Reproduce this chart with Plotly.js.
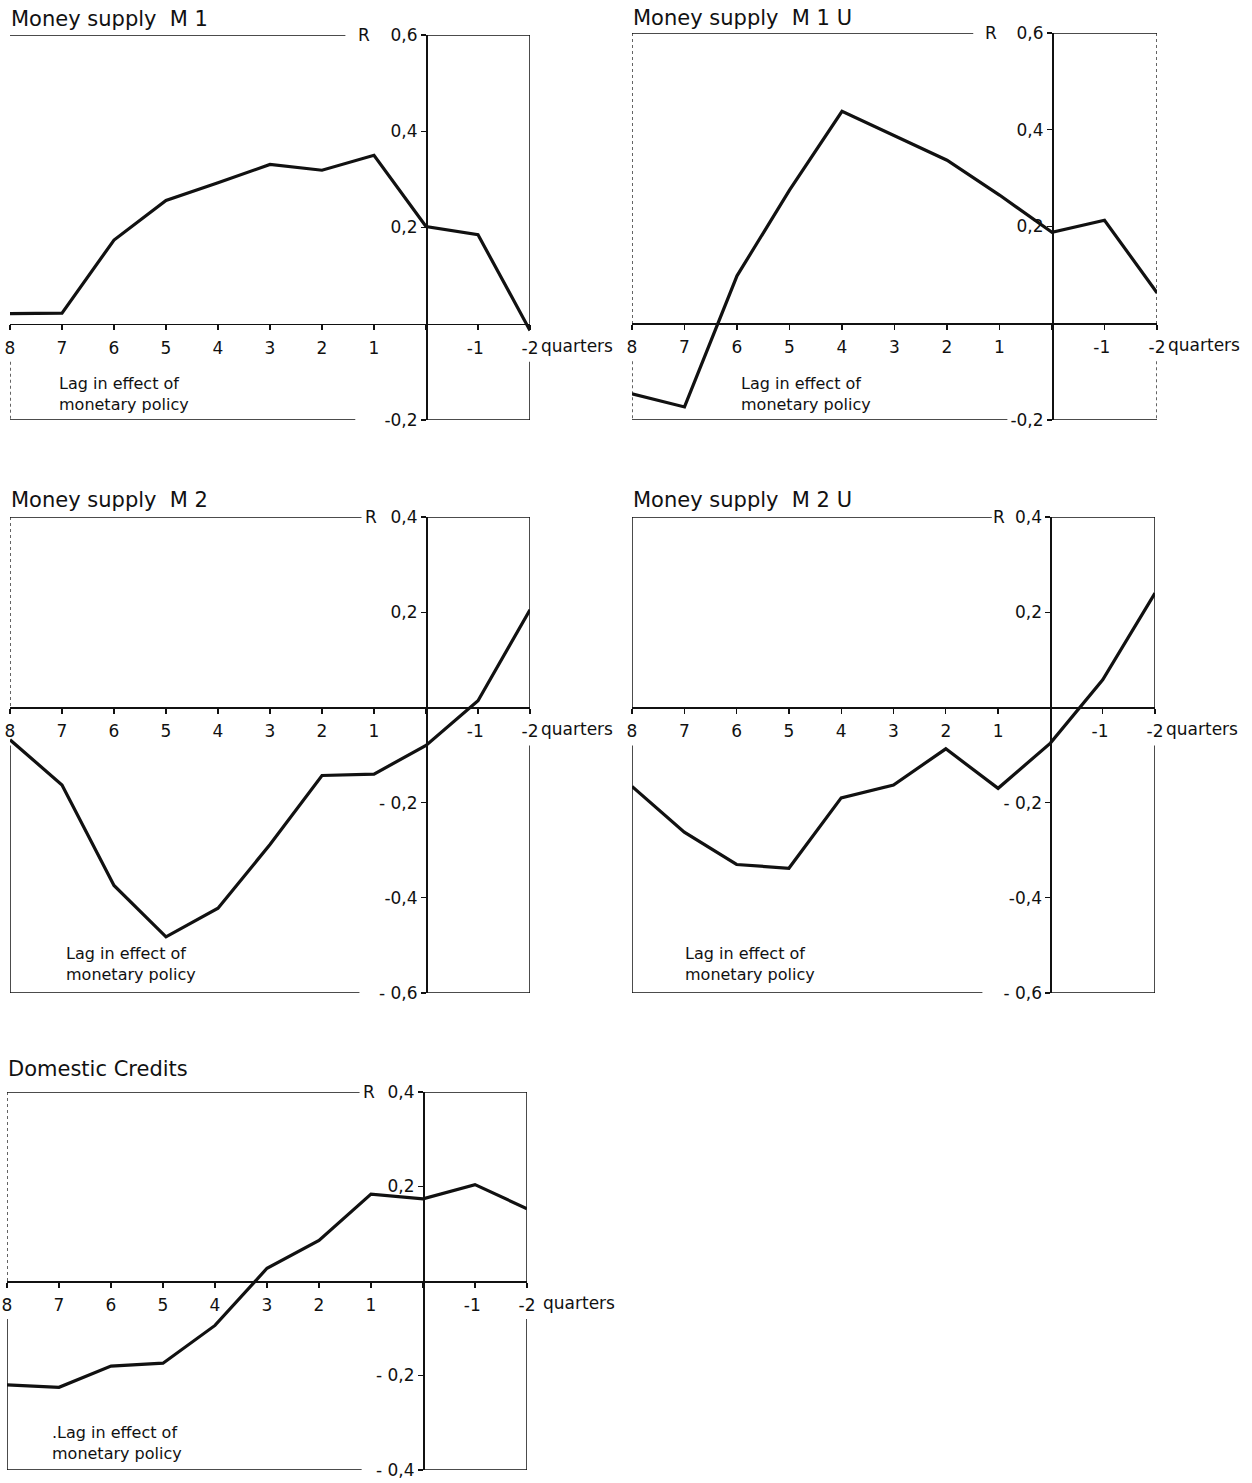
<!DOCTYPE html>
<html><head><meta charset="utf-8">
<script src="https://cdn.plot.ly/plotly-3.0.1.min.js"></script>
<style>body{margin:0;background:#fff}</style>
</head><body><div id="chart" style="width:1252px;height:1483px"></div>
<script>
// ---- data ----
const lags = [8, 7, 6, 5, 4, 3, 2, 1, 0, -1, -2];
const lagLabels = ["8", "7", "6", "5", "4", "3", "2", "1", "", "-1\u00a0", "-2"];
const m1 = [0.021, 0.022, 0.174, 0.256, 0.293, 0.331, 0.319, 0.350, 0.202, 0.185, -0.014];
const m1u = [-0.146, -0.173, 0.098, 0.275, 0.438, 0.388, 0.337, 0.265, 0.188, 0.213, 0.063];
const m2 = [-0.068, -0.163, -0.374, -0.482, -0.422, -0.288, -0.143, -0.140, -0.080, 0.014, 0.205];
const m2u = [-0.166, -0.262, -0.330, -0.338, -0.190, -0.163, -0.087, -0.170, -0.075, 0.058, 0.240];
const domCredits = [-0.220, -0.225, -0.180, -0.174, -0.094, 0.027, 0.086, 0.184, 0.174, 0.204, 0.153];
const titles = ["Money supply  M 1", "Money supply  M 1 U", "Money supply  M 2", "Money supply  M 2 U", "Domestic Credits"];
const yTicksM1 = [0.6, 0.4, 0.2, -0.2];
const yLabelsM1 = ["0,6", "0,4", "0,2", "-0,2"];
const yTicksM2 = [0.4, 0.2, -0.2, -0.4, -0.6];
const yLabelsM2 = ["0,4", "0,2", "- 0,2", "-0,4", "- 0,6"];
const yTicksDC = [0.4, 0.2, -0.2, -0.4];
const yLabelsDC = ["0,4", "0,2", "- 0,2", "- 0,4"];
const axisLetter = "R";
const unitWord = "quarters";
const lagNote = "Lag in effect of<br>monetary policy";

// ---- layout geometry (pixels) ----
const W = 1252, H = 1483;
const FONT = "DejaVu Sans, Liberation Sans, sans-serif";
const INK = "#111";
const LW = 1.5;
const panels = [
  {series: m1, title: titles[0], x8: 10, xm2: 530, top: 35, bot: 420, yr: [-0.2, 0.6], tv: yTicksM1, tt: yLabelsM1, titleY: 19, topEnd: 1.55, rX: 1.2, botEnd: 1.36, note: [57, 372], qx: 539, leftUp: null, leftLow: "dot", right: "solid", noteDot: false},
  {series: m1u, title: titles[1], x8: 632, xm2: 1157, top: 33, bot: 420, yr: [-0.2, 0.6], tv: yTicksM1, tt: yLabelsM1, titleY: 18, topEnd: 1.5, rX: 1.17, botEnd: 0.85, note: [739, 372], qx: 1166, leftUp: "dot", leftLow: "dot", right: "dot", noteDot: false},
  {series: m2, title: titles[2], x8: 10, xm2: 530, top: 517, bot: 993, yr: [-0.6, 0.4], tv: yTicksM2, tt: yLabelsM2, titleY: 500, topEnd: 1.24, rX: 1.05, botEnd: 1.28, note: [64, 942], qx: 539, leftUp: "dot", leftLow: "solid", right: "solid", noteDot: false},
  {series: m2u, title: titles[3], x8: 632, xm2: 1155, top: 517, bot: 993, yr: [-0.6, 0.4], tv: yTicksM2, tt: yLabelsM2, titleY: 500, topEnd: 1.12, rX: 0.98, botEnd: 1.3, note: [683, 942], qx: 1164, leftUp: "solid", leftLow: "solid", right: "solid", noteDot: false},
  {series: domCredits, title: titles[4], x8: 7, xm2: 527, top: 1092, bot: 1470, yr: [-0.4, 0.4], tv: yTicksDC, tt: yLabelsDC, titleY: 1069, topEnd: 1.22, rX: 1.03, botEnd: 1.18, note: [50, 1421], qx: 541, leftUp: "dot", leftLow: "solid", right: "solid", noteDot: true}
];

const px = x => x / W;
const py = y => 1 - y / H;

const data = [];
const layout = {
  width: W, height: H, margin: {l: 0, r: 0, t: 0, b: 0},
  paper_bgcolor: "#fff", plot_bgcolor: "rgba(0,0,0,0)",
  showlegend: false, font: {family: FONT, color: INK},
  shapes: [], annotations: []
};

panels.forEach((p, i) => {
  const n = i === 0 ? "" : String(i + 1);
  const xa = "x" + n, ya = "y" + n;
  const [ymin, ymax] = p.yr;
  const pxPerUnit = (p.bot - p.top) / (ymax - ymin);
  const zeroPx = p.top + ymax * pxPerUnit;
  const x0Px = p.x8 + 0.8 * (p.xm2 - p.x8);
  const gap = -38 / pxPerUnit;

  data.push({
    x: lags, y: p.series, xaxis: xa, yaxis: ya, type: "scatter", mode: "lines",
    line: {color: INK, width: 3.2}, hoverinfo: "skip"
  });

  layout["xaxis" + n] = {
    domain: [px(p.x8), px(p.xm2)], range: [8, -2], anchor: "free", position: py(zeroPx),
    showgrid: false, zeroline: false, showline: true, linecolor: INK, linewidth: LW,
    ticks: "outside", ticklen: 5, tickwidth: 1.2, tickcolor: INK,
    tickmode: "array", tickvals: lags, ticktext: lagLabels,
    tickfont: {family: FONT, size: 17, color: INK}, ticklabelstandoff: 3, fixedrange: true
  };
  layout["yaxis" + n] = {
    domain: [py(p.bot), py(p.top)], range: [ymin, ymax], anchor: "free", position: px(x0Px),
    side: "left", showgrid: false, zeroline: false, showline: true, linecolor: INK, linewidth: LW,
    ticks: "outside", ticklen: 5, tickwidth: 1.2, tickcolor: INK,
    tickmode: "array", tickvals: p.tv, ticktext: p.tt,
    tickfont: {family: FONT, size: 17, color: INK}, fixedrange: true
  };

  const seg = (x0, y0, x1, y1, dash) => ({
    type: "line", xref: xa, yref: ya, x0, y0, x1, y1,
    line: {color: INK, width: dash === "dot" ? 1.3 : LW, dash: dash || "solid"}
  });
  layout.shapes.push(seg(8, ymax, p.topEnd, ymax));
  layout.shapes.push(seg(0, ymax, -2, ymax));
  layout.shapes.push(seg(8, ymin, p.botEnd, ymin));
  layout.shapes.push(seg(0, ymin, -2, ymin));
  layout.shapes.push(seg(-2, ymax, -2, 0, p.right));
  layout.shapes.push(seg(-2, gap, -2, ymin, p.right));
  if (p.leftUp) layout.shapes.push(seg(8, ymax, 8, 0, p.leftUp));
  if (p.leftLow) layout.shapes.push(seg(8, gap, 8, ymin, p.leftLow));

  // panel title
  layout.annotations.push({
    xref: "paper", yref: "paper", x: px(p.x8 - 1), y: py(p.titleY), xanchor: "left", yanchor: "middle",
    text: p.title, showarrow: false, font: {family: FONT, size: 21, color: INK}
  });
  // axis letter R
  layout.annotations.push({
    xref: xa, yref: ya, x: p.rX, y: ymax, xanchor: "center", yanchor: "middle",
    text: axisLetter, showarrow: false, font: {family: FONT, size: 17, color: INK}
  });
  // unit word after -2
  layout.annotations.push({
    xref: "paper", yref: "paper", x: px(p.qx), y: py(zeroPx + 22), xanchor: "left", yanchor: "middle",
    text: unitWord, showarrow: false, font: {family: FONT, size: 17, color: INK}
  });
  // lag note
  layout.annotations.push({
    xref: "paper", yref: "paper", x: px(p.note[0]), y: py(p.note[1]), xanchor: "left", yanchor: "top",
    align: "left", text: (p.noteDot ? "." : "") + lagNote, showarrow: false,
    font: {family: FONT, size: 16, color: INK}
  });
});

Plotly.newPlot("chart", data, layout, {staticPlot: true, displayModeBar: false});
</script>
</body></html>
